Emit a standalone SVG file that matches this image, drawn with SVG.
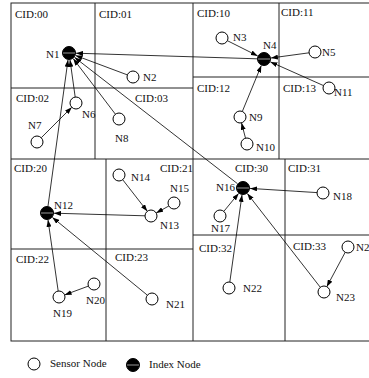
<svg xmlns="http://www.w3.org/2000/svg" width="369" height="378" viewBox="0 0 369 378">
<style>
.grid{stroke:#222;stroke-width:1;fill:none}
.s{fill:#fff;stroke:#000;stroke-width:1}
.i{fill:#000;stroke:#000;stroke-width:1}
.hl{stroke:#fff;stroke-width:0.6}
.e{stroke:#000;stroke-width:0.8;fill:none;marker-end:url(#ah)}
text{font-family:"Liberation Serif","Times New Roman",serif;font-size:11px;fill:#111}
</style>
<defs>
<marker id="ah" markerUnits="userSpaceOnUse" markerWidth="7" markerHeight="5" refX="7" refY="2.5" orient="auto">
<path d="M0,0 L7,2.5 L0,5 z" fill="#000"/>
</marker>
</defs>
<rect width="369" height="378" fill="#fff"/>
<g id="grid">
<rect class="grid" x="11" y="3" width="362" height="338"/>
<line class="grid" x1="193" y1="3" x2="193" y2="341"/>
<line class="grid" x1="11" y1="159" x2="373" y2="159"/>
<line class="grid" x1="95" y1="3" x2="95" y2="159"/>
<line class="grid" x1="11" y1="88" x2="193" y2="88"/>
<line class="grid" x1="279" y1="3" x2="279" y2="159"/>
<line class="grid" x1="193" y1="77" x2="373" y2="77"/>
<line class="grid" x1="106" y1="159" x2="106" y2="341"/>
<line class="grid" x1="11" y1="249" x2="193" y2="249"/>
<line class="grid" x1="285" y1="159" x2="285" y2="341"/>
<line class="grid" x1="193" y1="235" x2="373" y2="235"/>
</g>
<g id="cells">
<text x="15" y="18">CID:00</text>
<text x="99" y="18">CID:01</text>
<text x="16" y="102">CID:02</text>
<text x="135" y="102">CID:03</text>
<text x="197" y="17">CID:10</text>
<text x="281" y="16">CID:11</text>
<text x="197" y="92">CID:12</text>
<text x="283" y="92">CID:13</text>
<text x="14" y="172">CID:20</text>
<text x="160" y="172">CID:21</text>
<text x="16" y="263">CID:22</text>
<text x="115" y="261">CID:23</text>
<text x="235" y="172">CID:30</text>
<text x="288" y="172">CID:31</text>
<text x="199" y="252">CID:32</text>
<text x="293" y="250">CID:33</text>
</g>
<g id="connectors">
<line class="e" x1="127.4" y1="74.9" x2="75.6" y2="55.5"/>
<line class="e" x1="257.0" y1="58.8" x2="76.0" y2="53.2"/>
<line class="e" x1="75.2" y1="97.1" x2="70.0" y2="59.9"/>
<line class="e" x1="41.2" y1="137.8" x2="71.8" y2="107.2"/>
<line class="e" x1="115.4" y1="114.2" x2="73.2" y2="58.6"/>
<line class="e" x1="48.0" y1="206.1" x2="68.0" y2="59.9"/>
<line class="e" x1="237.5" y1="183.7" x2="74.5" y2="57.3"/>
<line class="e" x1="227.4" y1="40.7" x2="257.7" y2="55.9"/>
<line class="e" x1="309.1" y1="52.8" x2="270.9" y2="58.0"/>
<line class="e" x1="323.5" y1="85.6" x2="270.4" y2="61.9"/>
<line class="e" x1="242.3" y1="111.5" x2="261.3" y2="65.5"/>
<line class="e" x1="245.5" y1="138.2" x2="241.5" y2="122.8"/>
<line class="e" x1="145.0" y1="215.8" x2="54.0" y2="213.2"/>
<line class="e" x1="122.7" y1="179.7" x2="147.3" y2="211.3"/>
<line class="e" x1="168.8" y1="206.0" x2="156.2" y2="213.0"/>
<line class="e" x1="58.2" y1="291.1" x2="48.0" y2="219.9"/>
<line class="e" x1="88.4" y1="286.1" x2="64.6" y2="294.9"/>
<line class="e" x1="147.4" y1="295.2" x2="52.4" y2="217.4"/>
<line class="e" x1="223.8" y1="211.4" x2="238.6" y2="193.4"/>
<line class="e" x1="317.0" y1="192.6" x2="250.0" y2="188.4"/>
<line class="e" x1="229.8" y1="282.1" x2="242.0" y2="194.9"/>
<line class="e" x1="320.3" y1="287.3" x2="247.3" y2="193.5"/>
<line class="e" x1="345.2" y1="252.3" x2="326.8" y2="286.7"/>
</g>
<g id="N1"><circle class="i" cx="69" cy="53" r="6.5"/><line class="hl" x1="63" y1="53" x2="75" y2="53"/><text x="46" y="58">N1</text></g>
<g id="N2"><circle class="s" cx="133" cy="77" r="6"/><text x="143" y="81">N2</text></g>
<g id="N3"><circle class="s" cx="222" cy="38" r="6"/><text x="233" y="41">N3</text></g>
<g id="N4"><circle class="i" cx="264" cy="59" r="6.5"/><line class="hl" x1="258" y1="59" x2="270" y2="59"/><text x="263" y="49">N4</text></g>
<g id="N5"><circle class="s" cx="315" cy="52" r="6"/><text x="322" y="56">N5</text></g>
<g id="N6"><circle class="s" cx="76" cy="103" r="6"/><text x="82" y="118">N6</text></g>
<g id="N7"><circle class="s" cx="37" cy="142" r="6"/><text x="28" y="129">N7</text></g>
<g id="N8"><circle class="s" cx="119" cy="119" r="6"/><text x="115" y="142">N8</text></g>
<g id="N9"><circle class="s" cx="240" cy="117" r="6"/><text x="249" y="121">N9</text></g>
<g id="N10"><circle class="s" cx="247" cy="144" r="6"/><text x="256" y="151">N10</text></g>
<g id="N11"><circle class="s" cx="329" cy="88" r="6"/><text x="334" y="96">N11</text></g>
<g id="N12"><circle class="i" cx="47" cy="213" r="6.5"/><line class="hl" x1="41" y1="213" x2="53" y2="213"/><text x="54" y="209">N12</text></g>
<g id="N13"><circle class="s" cx="151" cy="216" r="6"/><text x="160" y="229">N13</text></g>
<g id="N14"><circle class="s" cx="119" cy="175" r="6"/><text x="131" y="181">N14</text></g>
<g id="N15"><circle class="s" cx="174" cy="203" r="6"/><text x="170" y="192">N15</text></g>
<g id="N16"><circle class="i" cx="243" cy="188" r="6.5"/><line class="hl" x1="237" y1="188" x2="249" y2="188"/><text x="216" y="191">N16</text></g>
<g id="N17"><circle class="s" cx="220" cy="216" r="6"/><text x="211" y="232">N17</text></g>
<g id="N18"><circle class="s" cx="323" cy="193" r="6"/><text x="333" y="200">N18</text></g>
<g id="N19"><circle class="s" cx="59" cy="297" r="6"/><text x="53" y="317">N19</text></g>
<g id="N20"><circle class="s" cx="94" cy="284" r="6"/><text x="86" y="304">N20</text></g>
<g id="N21"><circle class="s" cx="152" cy="299" r="6"/><text x="166" y="308">N21</text></g>
<g id="N22"><circle class="s" cx="229" cy="288" r="6"/><text x="243" y="292">N22</text></g>
<g id="N23"><circle class="s" cx="324" cy="292" r="6"/><text x="336" y="301">N23</text></g>
<g id="N24"><circle class="s" cx="348" cy="247" r="6"/><text x="356" y="251">N24</text></g>
<g id="legend">
<circle class="s" cx="34" cy="364" r="6"/>
<text x="50" y="367">Sensor Node</text>
<circle class="i" cx="133" cy="365" r="6.5"/>
<line class="hl" x1="127" y1="365" x2="139" y2="365"/>
<text x="149" y="368">Index Node</text>
</g>
</svg>
